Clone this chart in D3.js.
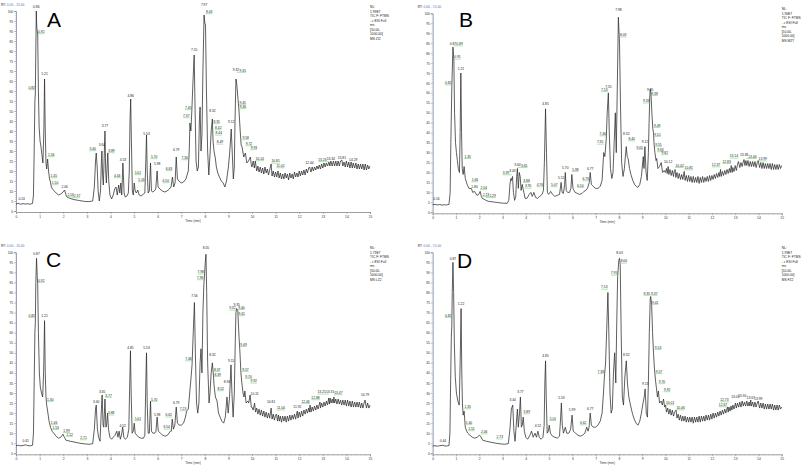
<!DOCTYPE html>
<html><head><meta charset="utf-8">
<script src="https://cdn.jsdelivr.net/npm/d3@7"></script>
<style>body{margin:0;background:#fff}svg{display:block}text{font-family:"Liberation Sans",Arial,sans-serif}</style>
</head><body><svg id="c" width="805" height="468"></svg>
<script>
// ---------- DATA ----------
const xTicks = d3.range(0, 16, 1);
const yTicks = d3.range(0, 101, 5);
const infoLines = ["TIC F: FTMS", "- c ESI Full", "ms", "[50.00-", "1000.00]"];
const nlValues = ["1.93E7", "1.90E7", "1.73E7", "1.93E7"];
const msNames = ["MS ZI2", "MS MZ7", "MS LZ2", "MS FZ2"];
const panelNames = ["A", "B", "C", "D"];

const traceA = [[0,3.5],[0.1,3.8],[0.2,3.4],[0.3,3.7],[0.4,3.5],[0.5,3.6],[0.6,3.4],[0.7,3.8],[0.74,8],[0.77,30],[0.80,55],[0.82,59],[0.84,80],[0.86,100],[0.88,92],[0.92,88],[0.95,60],[0.98,42],[1.02,35],[1.06,32],[1.10,28],[1.14,24],[1.18,40],[1.21,66],[1.24,40],[1.27,24],[1.30,21],[1.34,26],[1.38,20],[1.42,16],[1.45,15],[1.50,12],[1.55,11],[1.62,10],[1.70,9],[1.80,8],[1.90,8.5],[2.00,9.5],[2.06,10.5],[2.12,8],[2.16,7],[2.25,6.5],[2.37,6],[2.5,5.6],[2.7,5.2],[2.9,4.8],[3.1,4.7],[3.25,5],[3.32,12],[3.37,25],[3.40,29],[3.44,22],[3.48,10],[3.53,5],[3.58,10],[3.62,25],[3.64,30],[3.67,18],[3.70,13],[3.74,28],[3.77,40],[3.80,20],[3.83,14],[3.86,22],[3.89,29],[3.93,15],[3.98,8],[4.05,6],[4.12,8],[4.18,11],[4.24,12],[4.29,8],[4.35,13],[4.40,9],[4.44,14],[4.48,8],[4.53,24],[4.58,9],[4.63,7],[4.70,7.5],[4.76,9],[4.80,20],[4.83,45],[4.86,56],[4.89,35],[4.93,10],[4.97,8],[5.01,14],[5.05,10],[5.10,9],[5.16,10.5],[5.22,8],[5.30,7.5],[5.40,8.5],[5.46,9],[5.50,25],[5.53,38],[5.56,20],[5.60,9],[5.65,10],[5.70,24],[5.74,10],[5.80,9.5],[5.86,10],[5.92,11],[5.98,20],[6.02,12],[6.10,11],[6.20,10],[6.30,9.5],[6.40,10],[6.50,11],[6.57,12],[6.63,17],[6.68,12],[6.74,14],[6.79,27],[6.84,16],[6.90,15],[7.00,14],[7.10,14.5],[7.20,16],[7.30,20],[7.34,30],[7.37,44],[7.41,40],[7.45,50],[7.50,65],[7.55,78],[7.59,50],[7.63,25],[7.68,20],[7.73,22],[7.77,45],[7.80,52],[7.84,30],[7.88,38],[7.92,70],[7.97,98],[8.00,94],[8.03,93],[8.07,60],[8.12,30],[8.17,18],[8.22,28],[8.27,40],[8.32,46],[8.35,35],[8.39,30],[8.42,28],[8.44,27],[8.49,22],[8.55,19],[8.62,17],[8.70,15],[8.78,14],[8.85,12],[8.92,15],[9.0,22],[9.06,30],[9.12,41],[9.16,30],[9.21,16],[9.25,22],[9.28,45],[9.32,66],[9.35,64],[9.40,57],[9.45,50],[9.46,48],[9.50,40],[9.54,33],[9.58,32],[9.65,27],[9.72,29],[9.78,24],[9.85,25],[9.93,27],[9.97,23]];
const tailA = [[10.00,22],[10.05,25],[10.10,21.5],[10.14,25],[10.20,20],[10.25,22.5],[10.30,19.5],[10.35,22],[10.40,19],[10.45,21.5],[10.50,18.5],[10.55,22],[10.60,19],[10.65,21],[10.70,18],[10.75,20.5],[10.81,23.5],[10.85,17.5],[10.90,20],[10.95,17],[11.00,19.5],[11.05,17],[11.10,20],[11.15,16.5],[11.20,19],[11.25,16],[11.30,18.5],[11.35,16],[11.40,19],[11.45,16.5],[11.50,18.5],[11.55,15.5],[11.60,19],[11.65,16.5],[11.70,18.5],[11.75,16],[11.80,19.5],[11.85,17],[11.90,19],[11.95,17],[12.00,20],[12.05,17.5],[12.10,20],[12.15,18],[12.20,20.5],[12.25,18],[12.30,21],[12.35,19],[12.40,21.5],[12.44,22],[12.50,19.5],[12.55,22],[12.60,20],[12.65,22],[12.70,20.5],[12.75,22.5],[12.80,21],[12.85,23],[12.90,21],[12.95,23.5],[13.00,21.5],[13.05,24],[13.10,22],[13.15,24],[13.20,22.5],[13.26,24.5],[13.30,22.5],[13.34,25],[13.40,22.5],[13.45,25],[13.50,22.5],[13.55,25],[13.60,22.5],[13.65,25],[13.70,22.5],[13.75,25],[13.81,25.5],[13.85,22.5],[13.90,24.5],[13.95,22],[14.00,25],[14.05,22],[14.10,24.5],[14.15,21.5],[14.20,24.5],[14.25,21.5],[14.29,24],[14.35,21.5],[14.40,24],[14.45,21],[14.50,23.5],[14.55,21],[14.60,23.5],[14.65,21],[14.70,23.5],[14.75,20.5],[14.80,23.5],[14.85,20.5],[14.90,23],[14.95,21],[15.00,22.5]];

const labelsA = [[0.24,5.5,"0.24","c"],[0.86,101.5,"0.86","c"],[0.92,89,"0.92","r"],[0.82,61,"0.82","l"],[1.21,68,"1.21","c"],[1.34,27.5,"1.34","r"],[1.45,17,"1.45","r"],[1.50,13.5,"1.50","r"],[2.06,11.5,"2.06","c"],[2.16,7.5,"2.16","r"],[2.37,7,"2.37","r"],[3.40,30.5,"3.40","l"],[3.64,32.5,"3.64","c"],[3.77,42,"3.77","c"],[3.89,29.5,"3.89","r"],[4.44,17,"4.44","l"],[4.53,25,"4.53","c"],[4.86,57,"4.86","c"],[5.01,18.5,"5.01","r"],[5.16,15,"5.16","r"],[5.53,38,"5.53","c"],[5.70,26.5,"5.70","r"],[5.98,23,"5.98","c"],[6.50,14.5,"6.50","l"],[6.63,20.5,"6.63","l"],[6.79,30,"6.79","c"],[7.30,26,"7.30","l"],[7.37,47,"7.37","l"],[7.45,51,"7.45","l"],[7.55,80,"7.55","c"],[7.97,102.5,"7.97","c"],[8.03,99,"8.03","r"],[8.32,49.5,"8.32","c"],[8.35,44,"8.35","r"],[8.42,41,"8.42","r"],[8.44,38.3,"8.44","r"],[8.49,33.8,"8.49","r"],[9.12,43.8,"9.12","c"],[9.32,70,"9.32","c"],[9.35,69.7,"9.35","r"],[9.45,53.5,"9.45","r"],[9.46,51.5,"9.46","r"],[9.58,36,"9.58","r"],[9.72,33,"9.72","r"],[9.93,31,"9.93","r"],[10.14,25.5,"10.14","r"],[10.81,24.3,"10.81","r"],[11.02,22,"11.02","r"],[12.44,23.3,"12.44","c"],[13.26,25,"13.26","l"],[13.34,25.5,"13.34","c"],[13.81,26,"13.81","c"],[14.29,25,"14.29","c"]];

const traceB = [[0,3.8],[0.1,4],[0.2,3.7],[0.3,3.9],[0.4,3.6],[0.5,3.8],[0.6,3.7],[0.7,4],[0.75,10],[0.78,35],[0.81,55],[0.82,62],[0.85,75],[0.87,83],[0.89,80],[0.91,76],[0.94,50],[0.98,35],[1.02,30],[1.06,26],[1.10,22],[1.15,20],[1.18,40],[1.21,70],[1.24,40],[1.27,22],[1.31,19],[1.35,23],[1.40,17],[1.48,14],[1.56,12],[1.66,12],[1.72,10],[1.80,10.5],[1.90,8.5],[1.98,9],[2.04,10.5],[2.09,8],[2.13,7],[2.22,6.5],[2.29,6],[2.4,5.5],[2.6,5.2],[2.8,4.9],[3.0,4.6],[3.2,4.5],[3.27,6],[3.32,14],[3.36,17],[3.39,16],[3.43,18],[3.47,10],[3.52,6],[3.57,8],[3.61,18],[3.64,22],[3.68,12],[3.72,20],[3.76,18],[3.80,11],[3.85,14],[3.88,12],[3.92,10],[3.97,7],[4.05,7],[4.15,9],[4.22,10],[4.28,8],[4.35,10],[4.42,7.5],[4.5,7],[4.6,8],[4.70,9],[4.76,11],[4.80,25],[4.85,52],[4.89,30],[4.93,10],[4.98,9],[5.07,10.5],[5.15,9],[5.25,8],[5.35,8.5],[5.45,9],[5.52,15],[5.56,10],[5.62,9.5],[5.67,14],[5.70,20],[5.74,11],[5.80,10],[5.88,10],[5.94,12],[5.98,19],[6.03,12],[6.12,10],[6.22,9.5],[6.32,9],[6.42,9.5],[6.50,10.5],[6.58,11],[6.65,12],[6.73,15],[6.77,20],[6.82,14],[6.90,13],[7.0,12],[7.1,12],[7.2,13],[7.28,16],[7.35,30],[7.40,28],[7.46,37],[7.50,50],[7.55,60],[7.59,40],[7.64,22],[7.70,17],[7.75,20],[7.80,35],[7.85,50],[7.89,30],[7.93,60],[7.98,98],[8.01,90],[8.03,85],[8.07,55],[8.12,25],[8.18,18],[8.24,22],[8.28,28],[8.32,33],[8.36,28],[8.40,27],[8.46,22],[8.52,19],[8.60,16],[8.68,14],[8.75,13],[8.82,12.5],[8.90,14],[8.97,18],[9.05,28],[9.08,22],[9.12,33],[9.17,20],[9.22,16],[9.27,30],[9.30,45],[9.33,58],[9.35,62],[9.38,60],[9.42,50],[9.46,42],[9.49,40],[9.51,35],[9.55,30],[9.60,26],[9.63,27],[9.68,22],[9.75,23],[9.82,25],[9.88,20],[9.95,21]];
const tailB = [[10.00,20],[10.05,22],[10.08,19.5],[10.12,23],[10.15,19],[10.20,21.5],[10.25,18.5],[10.30,21],[10.35,18],[10.38,20.5],[10.42,21.5],[10.45,17.5],[10.50,20],[10.55,17],[10.60,19.5],[10.65,16.5],[10.70,19],[10.75,16.5],[10.81,20.5],[10.85,16],[10.90,18.5],[10.95,15.5],[11.00,18.5],[11.05,15.5],[11.10,18],[11.15,15],[11.20,18],[11.25,15],[11.30,17.5],[11.35,15],[11.40,18],[11.45,14.5],[11.50,17.5],[11.55,15],[11.60,18],[11.65,15],[11.70,17.5],[11.75,15.5],[11.80,18],[11.85,15.5],[11.90,18.5],[11.95,16],[12.00,18.5],[12.05,16.5],[12.10,19],[12.15,17],[12.20,19.5],[12.25,17.5],[12.30,20],[12.33,18],[12.37,21.5],[12.40,18],[12.45,20.5],[12.50,18.5],[12.55,21],[12.60,19],[12.65,21.5],[12.70,19.5],[12.75,22],[12.79,20],[12.83,23.5],[12.87,20],[12.90,22.5],[12.95,20.5],[13.00,23.5],[13.05,21],[13.10,24],[13.14,25.5],[13.20,22.5],[13.25,25],[13.30,23],[13.34,25],[13.38,26.5],[13.42,23.5],[13.46,26],[13.50,23.5],[13.55,26],[13.60,23],[13.65,25.5],[13.70,23],[13.75,25.5],[13.80,23],[13.85,25.5],[13.90,22.5],[13.95,25],[13.99,26],[14.05,22.5],[14.10,25],[14.15,22],[14.20,25],[14.25,22],[14.30,24.5],[14.35,22],[14.40,24.5],[14.45,22],[14.50,24.5],[14.55,21.5],[14.60,24.5],[14.65,21.5],[14.70,24],[14.75,21.5],[14.80,24],[14.85,21.5],[14.90,24],[14.95,22],[15.00,23.5]];

const labelsB = [[0.16,6.2,"0.16","c"],[0.82,64.4,"0.82","l"],[0.87,84.3,"0.87","c"],[0.89,84,"0.89","r"],[0.91,77.3,"0.91","r"],[1.21,71.4,"1.21","c"],[1.35,27.4,"1.35","r"],[1.66,15.7,"1.66","r"],[1.80,12,"1.80","c"],[2.04,11.7,"2.04","r"],[2.13,8.3,"2.13","r"],[2.29,7.8,"2.29","r"],[3.39,19.2,"3.39","l"],[3.43,20.4,"3.43","c"],[3.64,23.4,"3.64","c"],[3.65,22.9,"3.65","r"],[3.88,15.4,"3.88","r"],[3.95,12.5,"3.95","r"],[4.76,13.2,"4.76","l"],[4.85,53.8,"4.85","c"],[5.07,13.2,"5.07","r"],[5.52,16.7,"5.52","c"],[5.70,21.6,"5.70","c"],[5.98,20.9,"5.98","r"],[6.50,12.9,"6.50","l"],[6.73,16.2,"6.73","l"],[6.77,21.2,"6.77","c"],[7.35,34.6,"7.35","l"],[7.46,38.8,"7.46","l"],[7.53,61,"7.53","l"],[7.55,62.5,"7.55","c"],[7.98,101,"7.98","c"],[8.03,88.5,"8.03","r"],[8.32,39,"8.32","c"],[8.40,36.3,"8.40","r"],[9.05,32,"9.05","l"],[9.12,35,"9.12","c"],[9.33,55.3,"9.33","l"],[9.35,61,"9.35","c"],[9.38,59,"9.38","r"],[9.49,43,"9.49","r"],[9.51,38.5,"9.51","r"],[9.55,33.3,"9.55","r"],[9.63,30.8,"9.63","r"],[9.82,29.3,"9.82","r"],[10.12,24.6,"10.12","c"],[10.42,22.9,"10.42","r"],[10.81,21.7,"10.81","r"],[12.37,23.2,"12.37","l"],[12.83,24.9,"12.83","l"],[13.14,27.6,"13.14","l"],[13.38,28.4,"13.38","c"],[13.46,27.4,"13.46","r"],[13.99,26.2,"13.99","r"]];

const traceC = [[0,3.8],[0.1,4],[0.2,3.7],[0.3,3.9],[0.41,4.2],[0.5,3.8],[0.6,3.7],[0.7,4],[0.74,10],[0.77,35],[0.80,60],[0.82,65],[0.84,85],[0.87,97],[0.90,88],[0.92,84],[0.95,60],[0.99,40],[1.03,33],[1.08,30],[1.13,28],[1.17,40],[1.21,66],[1.24,40],[1.27,28],[1.30,24],[1.34,21],[1.40,16],[1.46,13],[1.53,11],[1.60,10],[1.70,8.5],[1.80,7.5],[1.90,8],[1.99,9.5],[2.05,8],[2.12,6.5],[2.3,6],[2.5,5.5],[2.71,5],[2.9,4.7],[3.1,4.5],[3.25,4.8],[3.32,12],[3.37,22],[3.40,24],[3.45,12],[3.50,8],[3.56,6],[3.61,20],[3.65,29],[3.69,14],[3.72,13],[3.77,27],[3.81,13],[3.84,14],[3.88,20],[3.92,12],[3.98,8],[4.05,7],[4.12,8],[4.2,9],[4.27,11],[4.32,8],[4.37,11],[4.42,7],[4.47,9],[4.52,13],[4.57,8],[4.63,7],[4.72,8],[4.78,12],[4.82,35],[4.85,51],[4.88,30],[4.92,10],[4.97,11],[5.01,15],[5.05,10],[5.12,9],[5.2,8],[5.3,7.5],[5.4,7.5],[5.46,9],[5.50,35],[5.53,50],[5.56,25],[5.60,10],[5.65,10],[5.70,26],[5.74,11],[5.80,10],[5.88,10],[5.93,11],[5.98,18],[6.03,11],[6.12,10],[6.22,9],[6.32,8.5],[6.42,9],[6.54,11],[6.58,11],[6.62,17],[6.67,12],[6.73,14],[6.79,23],[6.84,15],[6.92,14],[7.0,14],[7.1,15],[7.18,18],[7.23,21],[7.30,22],[7.36,30],[7.42,38],[7.46,44],[7.51,60],[7.56,75],[7.60,50],[7.65,25],[7.70,20],[7.75,25],[7.80,45],[7.84,52],[7.88,40],[7.92,70],[7.96,84],[7.98,87],[8.02,95],[8.05,99],[8.08,80],[8.12,45],[8.18,25],[8.22,30],[8.27,40],[8.32,45],[8.37,38],[8.39,34],[8.45,28],[8.52,26],[8.58,20],[8.65,18],[8.72,16],[8.80,15],[8.87,18],[8.94,28],[8.99,20],[9.05,28],[9.11,44],[9.15,30],[9.20,18],[9.25,30],[9.29,55],[9.32,70],[9.35,72],[9.40,71],[9.41,68],[9.45,58],[9.49,50],[9.53,40],[9.57,35],[9.62,30],[9.66,28],[9.70,31],[9.75,25],[9.82,26],[9.86,25],[9.92,29],[9.97,23]];
const tailC = [[10.00,23],[10.05,21.5],[10.11,25],[10.15,20.5],[10.20,22.5],[10.25,19.5],[10.30,22],[10.35,19],[10.40,21.5],[10.45,18.5],[10.50,21],[10.55,18],[10.60,20.5],[10.65,17.5],[10.70,20],[10.75,17.5],[10.81,22.5],[10.85,17],[10.90,19.5],[10.95,16.5],[11.00,19],[11.04,19.5],[11.08,16],[11.12,19],[11.16,16],[11.20,18.5],[11.25,15.5],[11.30,18.5],[11.35,16],[11.40,18.5],[11.45,15.5],[11.50,18.5],[11.55,16],[11.60,19],[11.65,16.5],[11.70,19],[11.75,17],[11.80,19.5],[11.85,17],[11.88,19],[11.92,21],[11.95,17.5],[12.00,20.5],[12.05,18],[12.10,21],[12.15,18.5],[12.20,21.5],[12.25,19.5],[12.30,22],[12.35,20],[12.40,22.5],[12.43,20.5],[12.46,24],[12.50,20.5],[12.55,23],[12.60,21],[12.65,23.5],[12.70,21.5],[12.75,24],[12.80,22],[12.84,24],[12.88,25.5],[12.90,22.5],[12.95,25],[13.00,23],[13.05,25.5],[13.10,23.5],[13.15,26],[13.20,24],[13.25,27.5],[13.28,24.5],[13.31,27.5],[13.35,25],[13.40,27],[13.44,25],[13.47,28],[13.50,25],[13.55,27],[13.60,24.5],[13.65,27],[13.70,24.5],[13.75,26.5],[13.80,24],[13.85,26.5],[13.90,24],[13.95,26.5],[14.00,23.5],[14.05,26.5],[14.10,23.5],[14.15,26],[14.20,23],[14.25,26],[14.30,23],[14.35,25.5],[14.40,23],[14.45,25.5],[14.50,23],[14.55,25.5],[14.60,22.5],[14.65,25],[14.70,22.5],[14.75,25],[14.79,26.5],[14.85,22.5],[14.90,25],[14.95,22.5],[15.00,24]];

const labelsC = [[0.41,5.5,"0.41","c"],[0.82,68,"0.82","l"],[0.87,98.7,"0.87","c"],[0.92,85.4,"0.92","r"],[1.21,68,"1.21","c"],[1.30,26.2,"1.30","r"],[1.46,14.6,"1.46","r"],[1.53,12.2,"1.53","r"],[1.99,10.7,"1.99","r"],[2.12,8.8,"2.12","r"],[2.71,7.1,"2.71","r"],[3.40,25.2,"3.40","c"],[3.65,29.8,"3.65","c"],[3.77,28.2,"3.77","r"],[3.88,19.4,"3.88","r"],[4.52,13.2,"4.52","c"],[4.85,51.7,"4.85","c"],[5.01,16.6,"5.01","r"],[5.53,51.7,"5.53","c"],[5.70,26.2,"5.70","r"],[5.98,18.6,"5.98","c"],[6.54,12.4,"6.54","l"],[6.62,18.4,"6.62","l"],[6.79,24.7,"6.79","c"],[7.23,21.5,"7.23","l"],[7.46,46.4,"7.46","l"],[7.56,77.6,"7.56","c"],[7.96,86.7,"7.96","l"],[7.98,89.6,"7.98","l"],[8.05,101.5,"8.05","c"],[8.32,48.6,"8.32","c"],[8.37,41.1,"8.37","r"],[8.39,38.6,"8.39","r"],[8.52,31.5,"8.52","r"],[8.94,34.8,"8.94","c"],[9.11,45.3,"9.11","c"],[9.32,71.6,"9.32","l"],[9.35,73.3,"9.35","c"],[9.40,71.9,"9.40","r"],[9.41,68.8,"9.41","r"],[9.49,53.5,"9.49","r"],[9.57,41.1,"9.57","r"],[9.70,37.6,"9.70","r"],[9.92,35.3,"9.92","r"],[10.11,29,"10.11","c"],[10.81,25.2,"10.81","c"],[11.04,21.9,"11.04","r"],[11.92,22.7,"11.92","c"],[12.46,25.2,"12.46","l"],[12.88,27,"12.88","l"],[13.25,29.8,"13.25","l"],[13.31,29.8,"13.31","c"],[13.47,29.5,"13.47","r"],[14.79,28.5,"14.79","c"]];

const traceD = [[0,3.6],[0.1,3.8],[0.2,3.5],[0.3,3.8],[0.44,4],[0.5,3.7],[0.6,3.6],[0.7,3.9],[0.74,10],[0.77,35],[0.80,58],[0.82,63],[0.84,80],[0.87,95],[0.90,80],[0.93,55],[0.97,38],[1.02,30],[1.08,26],[1.14,24],[1.18,45],[1.22,72],[1.25,40],[1.28,24],[1.31,19],[1.35,21],[1.40,13],[1.46,11],[1.51,10],[1.60,9],[1.70,8],[1.80,7.5],[1.92,8],[2.00,9],[2.06,8.5],[2.15,6.5],[2.3,6],[2.5,5.5],[2.73,5],[2.9,4.7],[3.1,4.5],[3.25,4.8],[3.32,12],[3.38,22],[3.44,24],[3.49,11],[3.54,6],[3.59,14],[3.64,22],[3.68,13],[3.73,20],[3.77,28],[3.81,13],[3.85,14],[3.89,18],[3.94,11],[4.0,8],[4.08,7],[4.18,9],[4.25,11],[4.32,8],[4.40,10],[4.46,8],[4.52,11],[4.58,8],[4.66,7],[4.74,8],[4.79,14],[4.82,35],[4.85,46],[4.88,28],[4.92,10],[4.97,11],[5.01,14],[5.06,10],[5.15,8.5],[5.25,8],[5.35,7.5],[5.45,8.5],[5.50,18],[5.53,25],[5.57,14],[5.62,10],[5.70,13],[5.76,10],[5.85,10],[5.93,12],[5.99,19],[6.04,11],[6.14,10],[6.24,9],[6.34,8.5],[6.44,9],[6.54,10],[6.62,13],[6.68,11],[6.72,13],[6.77,20],[6.82,14],[6.90,13],[7.0,13],[7.1,14],[7.2,16],[7.28,20],[7.34,30],[7.38,38],[7.43,45],[7.48,62],[7.53,80],[7.57,60],[7.62,30],[7.67,20],[7.72,22],[7.77,40],[7.82,50],[7.87,35],[7.91,65],[7.95,88],[8.00,96],[8.03,97],[8.06,94],[8.10,60],[8.15,28],[8.20,24],[8.26,38],[8.32,46],[8.37,35],[8.43,28],[8.50,24],[8.58,20],[8.66,17],[8.74,15],[8.82,14],[8.90,16],[8.97,20],[9.04,25],[9.09,28],[9.13,32],[9.18,20],[9.23,18],[9.27,35],[9.31,60],[9.35,77],[9.37,78],[9.41,74],[9.45,60],[9.49,50],[9.53,42],[9.57,37],[9.62,32],[9.66,28],[9.70,31],[9.75,25],[9.82,26],[9.87,24],[9.92,27],[9.97,23]];
const tailD = [[10.01,24],[10.05,20.5],[10.10,22.5],[10.15,19.5],[10.20,22],[10.25,19],[10.30,21.5],[10.35,18.5],[10.40,20.5],[10.46,21.5],[10.50,17.5],[10.55,19.5],[10.60,16.5],[10.65,19],[10.70,16],[10.75,18.5],[10.80,16],[10.85,18.5],[10.90,15.5],[10.95,18],[11.00,15.5],[11.05,18],[11.10,15.5],[11.15,18],[11.20,15],[11.25,18],[11.30,15.5],[11.35,18],[11.40,15.5],[11.45,18.5],[11.50,15.5],[11.55,18.5],[11.60,16],[11.65,18.5],[11.70,16],[11.75,19],[11.80,16.5],[11.85,19],[11.90,16.5],[11.95,19.5],[12.00,17],[12.05,20],[12.10,17.5],[12.15,20],[12.20,18],[12.25,20.5],[12.30,18.5],[12.35,21],[12.40,19],[12.45,21.5],[12.50,19.5],[12.55,22],[12.60,20],[12.63,21.5],[12.67,23],[12.70,20.5],[12.73,23],[12.78,21],[12.82,23.5],[12.86,21.5],[12.90,24],[12.95,22],[13.01,25],[13.05,22.5],[13.10,25],[13.15,23],[13.20,25.5],[13.25,23],[13.30,26],[13.35,23.5],[13.40,25.5],[13.45,23.5],[13.50,26],[13.55,23.5],[13.60,25.5],[13.63,23.5],[13.67,26.5],[13.70,23.5],[13.75,25.5],[13.80,23],[13.85,25.5],[13.90,23],[13.95,25],[13.99,26],[14.05,22.5],[14.10,25],[14.15,22.5],[14.20,25],[14.25,22],[14.30,24.5],[14.35,22],[14.40,24.5],[14.45,22],[14.50,24.5],[14.55,22],[14.60,24.5],[14.65,21.5],[14.70,24],[14.75,21.5],[14.80,24],[14.85,21.5],[14.90,24],[14.95,22],[15.00,23]];

const labelsD = [[0.44,5.5,"0.44","c"],[0.82,68,"0.82","l"],[0.87,96,"0.87","c"],[1.22,74,"1.22","c"],[1.35,22.5,"1.35","r"],[1.40,14.6,"1.40","r"],[1.51,11.6,"1.51","r"],[2.06,10,"2.06","r"],[2.73,7.5,"2.73","r"],[3.44,26,"3.44","c"],[3.77,30,"3.77","c"],[3.89,20,"3.89","r"],[4.52,13,"4.52","c"],[4.85,48,"4.85","c"],[5.01,16.6,"5.01","r"],[5.53,27,"5.53","c"],[5.99,21,"5.99","c"],[6.62,14.5,"6.62","l"],[6.77,21.5,"6.77","c"],[7.38,40,"7.38","l"],[7.53,82,"7.53","l"],[7.95,89,"7.95","l"],[8.03,99,"8.03","c"],[8.06,95,"8.06","r"],[8.32,48.5,"8.32","c"],[9.13,34,"9.13","c"],[9.35,79,"9.35","l"],[9.37,79,"9.37","r"],[9.41,74.5,"9.41","r"],[9.53,52,"9.53","r"],[9.57,40,"9.57","r"],[9.70,35,"9.70","r"],[9.92,31,"9.92","r"],[10.01,24.5,"10.01","r"],[10.46,22,"10.46","r"],[12.67,23.5,"12.67","l"],[12.73,26,"12.73","l"],[13.01,27.5,"13.01","c"],[13.30,28,"13.30","c"],[13.67,27,"13.67","c"],[13.99,26.5,"13.99","c"]];

// ---------- LAYOUT ----------
const traces = [traceA.concat(tailA), traceB.concat(tailB), traceC.concat(tailC), traceD.concat(tailD)];
const labelSets = [labelsA, labelsB, labelsC, labelsD];
const frames = [
  {x0:16, x1:370, y0:211, y1:11, lx:47, ly:27},
  {x0:432.7, x1:781.7, y0:212.3, y1:13.3, lx:459, ly:27},
  {x0:16, x1:370, y0:453.3, y1:252.3, lx:46, ly:267},
  {x0:432.7, x1:781.7, y0:453.3, y1:252.3, lx:457, ly:268}
];
const FS = 3.3;
const svg = d3.select("#c");

function overlaps(b, boxes) {
  return boxes.some(o => b.x1 < o.x2 && b.x2 > o.x1 && b.y1 < o.y2 && b.y2 > o.y1);
}

frames.forEach((f, i) => {
  const g = svg.append("g");
  const x = d3.scaleLinear().domain([0, 15]).range([f.x0, f.x1]);
  const y = d3.scaleLinear().domain([0, 100]).range([f.y0, f.y1]);

  const ym = g.append("g").attr("transform", `translate(${f.x0},0)`)
    .call(d3.axisLeft(y).tickValues(d3.range(0, 101, 1)).tickSize(1).tickFormat(""));
  ym.select(".domain").remove();
  ym.selectAll("line").attr("stroke", "#8a93aa").attr("stroke-width", 0.4);
  const ya = g.append("g").attr("transform", `translate(${f.x0},0)`)
    .call(d3.axisLeft(y).tickValues(yTicks).tickSize(2).tickPadding(0.8));
  ya.select(".domain").attr("stroke", "#7f8aa6").attr("stroke-width", 0.8);
  ya.selectAll("line").attr("stroke", "#7f8aa6").attr("stroke-width", 0.5);
  ya.selectAll("text").attr("font-size", FS).attr("fill", "#333").attr("font-family", "Liberation Sans");

  const xm = g.append("g").attr("transform", `translate(0,${f.y0 + 1})`)
    .call(d3.axisBottom(x).tickValues(d3.range(0, 15.01, 0.2)).tickSize(1).tickFormat(""));
  xm.select(".domain").remove();
  xm.selectAll("line").attr("stroke", "#888").attr("stroke-width", 0.4);
  const xa = g.append("g").attr("transform", `translate(0,${f.y0 + 1})`)
    .call(d3.axisBottom(x).tickValues(xTicks).tickSize(2).tickPadding(1.5));
  xa.select(".domain").attr("stroke", "#888").attr("stroke-width", 0.8);
  xa.selectAll("line").attr("stroke", "#888").attr("stroke-width", 0.5);
  xa.selectAll("text").attr("font-size", FS).attr("fill", "#333").attr("font-family", "Liberation Sans");

  g.append("text").attr("x", x(7.5)).attr("y", f.y0 + 11).attr("text-anchor", "middle")
    .attr("font-size", FS).attr("fill", "#333").text("Time (min)");

  const rt = g.append("text").attr("x", f.x0 - 15).attr("y", f.y1 - 5).attr("font-size", FS);
  rt.append("tspan").attr("fill", "#222").text("RT: ");
  rt.append("tspan").attr("fill", "#4f6fc4").text("0.00 - 15.00");

  const lines = ["NL:", nlValues[i]].concat(infoLines).concat([msNames[i]]);
  const nl = g.append("text").attr("x", f.x1).attr("y", f.y1 - 3).attr("font-size", FS).attr("fill", "#222");
  lines.forEach((s, k) => nl.append("tspan").attr("x", f.x1).attr("dy", k === 0 ? 0 : 4.5).text(s));

  g.append("text").attr("x", f.lx).attr("y", f.ly).attr("font-family", "Liberation Serif")
    .attr("font-size", 21).attr("fill", "#000").text(panelNames[i]);

  const line = d3.line().x(d => x(d[0])).y(d => y(d[1]));
  g.append("path").datum(traces[i]).attr("d", line).attr("fill", "none")
    .attr("stroke", "#2b2b2b").attr("stroke-width", 0.75).attr("stroke-linejoin", "round");

  // peak labels: centred ones first, displaced ones pushed sideways until free
  const boxes = [];
  const order = labelSets[i].filter(d => d[3] === "c").concat(labelSets[i].filter(d => d[3] !== "c"));
  order.forEach(([t, v, txt, side]) => {
    const px = x(t), py = y(v);
    const el = g.append("text").attr("font-size", FS).attr("fill", "#222").attr("y", py).text(txt);
    const w = el.node().getComputedTextLength();
    const h = 2.5;
    if (side === "c") {
      el.attr("x", px).attr("text-anchor", "middle");
      boxes.push({x1: px - w / 2, x2: px + w / 2, y1: py - h, y2: py + 0.3});
      return;
    }
    const dir = side === "r" ? 1 : -1;
    let off = 0.4;
    const boxAt = o => dir > 0 ? {x1: px + o, x2: px + o + w, y1: py - h, y2: py + 0.3}
                               : {x1: px - o - w, x2: px - o, y1: py - h, y2: py + 0.3};
    for (let k = 0; k < 40 && overlaps(boxAt(off), boxes); k++) off += 0.5;
    const b = boxAt(off);
    boxes.push(b);
    el.attr("x", b.x1);
    g.append("line").attr("x1", dir > 0 ? px : b.x1).attr("x2", dir > 0 ? b.x2 : px)
      .attr("y1", py + 0.7).attr("y2", py + 0.7)
      .attr("stroke", "#6fd36f").attr("stroke-width", 0.6);
  });
});
</script></body></html>
